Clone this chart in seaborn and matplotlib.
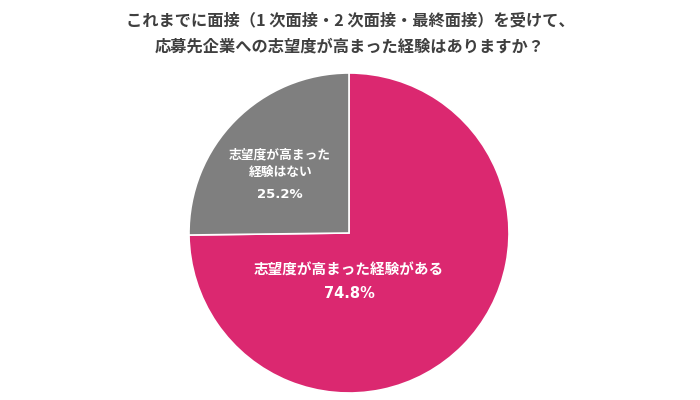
import matplotlib
matplotlib.use("Agg")
import matplotlib.pyplot as plt
import seaborn as sns

sns.set_theme(style="white")
plt.rcParams['font.family'] = ['Noto Sans CJK JP', 'DejaVu Sans']

title_lines = ["これまでに面接（1 次面接・2 次面接・最終面接）を受けて、",
               "応募先企業への志望度が高まった経験はありますか？"]
labels = ["志望度が高まった経験がある", "志望度が高まった\n経験はない"]
shares = [74.8, 25.2]
colors = ["#DB2870", "#7F7F7F"]

fig = plt.figure(figsize=(7, 4), dpi=100)
# pie centre about (349, 233) px, radius about 160 px
ax = fig.add_axes([(349 - 160) / 700, (400 - 393) / 400, 320 / 700, 320 / 400])

wedges, _ = ax.pie(shares, colors=colors, startangle=90, counterclock=False,
                   wedgeprops=dict(edgecolor="white", linewidth=1.2))
ax.set_xlim(-1, 1)
ax.set_ylim(-1, 1)
ax.set_aspect("equal")
ax.axis("off")

# labels inside the slices
ax.text(0.0, -0.23, labels[0], ha="center", va="center", color="white",
        fontsize=10.5, fontweight="bold")
ax.text(0.0, -0.375, f"{shares[0]}%", ha="center", va="center", color="white",
        fontsize=10.5, fontweight="bold", family=["DejaVu Sans"])
gray_lines = labels[1].split("\n")
ax.text(-0.43, 0.485, gray_lines[0], ha="center", va="center", color="white",
        fontsize=9.2, fontweight="bold")
ax.text(-0.43, 0.38, gray_lines[1], ha="center", va="center", color="white",
        fontsize=9.2, fontweight="bold")
ax.text(-0.43, 0.24, f"{shares[1]}%", ha="center", va="center", color="white",
        fontsize=9.5, fontweight="bold", family=["DejaVu Sans"])

fig.text(0.5, 1 - 20 / 400, title_lines[0], ha="center", va="center",
         fontsize=11.7, fontweight="bold", color="#3F3F3F")
fig.text(0.5, 1 - 47 / 400, title_lines[1], ha="center", va="center",
         fontsize=11.7, fontweight="bold", color="#3F3F3F")

fig.savefig("out.png", dpi=100)
